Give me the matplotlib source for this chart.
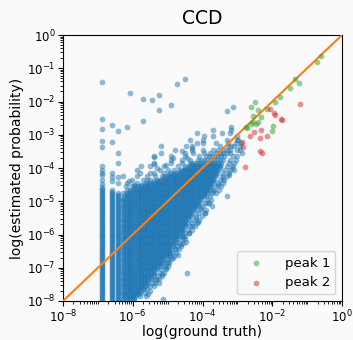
import numpy as np
import matplotlib
matplotlib.use('Agg')
import matplotlib.pyplot as plt
from matplotlib.ticker import LogLocator, NullFormatter

# ---------------- data (log10 values) ----------------
# discrete low-probability ground-truth columns
col1_lx = -6.886
col2_lx = -6.585
col3_lx = -6.41
column_fill_ly = [-7.99, -7.95, -7.9, -7.86, -7.81, -7.77, -7.72, -7.68, -7.63, -7.59,
                  -7.54, -7.5, -7.45, -7.41, -7.36, -7.32, -7.27, -7.23, -7.18, -7.14,
                  -7.09, -7.05, -7.0, -6.96, -6.91, -6.87, -6.82, -6.78, -6.73, -6.69,
                  -6.64, -6.6, -6.55, -6.51, -6.46, -6.42, -6.37, -6.33, -6.28, -6.24,
                  -6.19, -6.15, -6.1, -6.06, -6.01, -5.97, -5.92, -5.88, -5.83, -5.79,
                  -5.74, -5.7, -5.65, -5.61, -5.56, -5.52, -5.47, -5.43, -5.38, -5.34,
                  -5.29, -5.25, -5.2, -5.16, -5.11, -5.07, -5.02, -4.98, -4.93, -4.89,
                  -4.84, -4.8, -4.75, -4.71, -4.66, -4.62, -4.57]
col1_top = -4.56
col2_top = -4.66
col3_top = -4.75
col1_sparse_ly = [-1.41, -2.54, -2.84, -3.18, -3.36, -3.94, -4.06, -4.14, -4.21, -4.35, -4.47]
col2_sparse_ly = [-2.72, -3.21, -4.14, -4.26, -4.4]
col3_sparse_ly = [-2.88, -3.54, -3.86, -4.26, -4.45]

# main cloud, row by row: estimated (ly) -> ground truth values (lx)
rows_ly = [-7.95, -7.85, -7.75, -7.65, -7.55, -7.45, -7.35, -7.25, -7.15, -7.05,
           -6.95, -6.85, -6.75, -6.65, -6.55, -6.45, -6.35, -6.25, -6.15, -6.05,
           -5.95, -5.85, -5.75, -5.65, -5.55, -5.45, -5.35, -5.25, -5.15, -5.05,
           -4.95, -4.85, -4.75, -4.65, -4.55, -4.45, -4.35, -4.25, -4.15, -4.05,
           -3.95, -3.85, -3.75, -3.65, -3.55, -3.45, -3.35, -3.25, -3.15, -3.05,
           -2.95, -2.85, -2.76, -2.3, -2.16]
rows_lx = [
    [-6.29, -6.2, -6.12, -6.03, -5.95, -5.13],
    [-6.25, -6.16, -6.06, -5.98, -5.9, -5.78],
    [-6.29, -6.21, -6.11, -6.02, -5.94, -5.87, -5.79, -5.66],
    [-6.25, -6.16, -6.08, -5.98, -5.89, -5.81, -5.72, -5.58],
    [-6.29, -6.2, -6.11, -6.03, -5.94, -5.85, -5.76, -5.66, -5.5],
    [-6.25, -6.17, -6.07, -5.99, -5.9, -5.8, -5.71, -5.6, -5.45, -5.35],
    [-6.29, -6.21, -6.12, -6.02, -5.93, -5.84, -5.75, -5.66, -5.57, -5.48, -5.32, -5.25],
    [-6.25, -6.16, -6.07, -5.98, -5.89, -5.8, -5.71, -5.62, -5.52, -5.43, -5.28, -5.15],
    [-6.29, -6.2, -6.11, -6.02, -5.93, -5.84, -5.75, -5.66, -5.57, -5.47, -5.38, -5.22, -5.1, -4.45],
    [-6.25, -6.16, -6.07, -5.98, -5.89, -5.8, -5.71, -5.62, -5.53, -5.44, -5.33, -5.2, -5.05],
    [-6.29, -6.2, -6.11, -6.02, -5.93, -5.84, -5.75, -5.66, -5.57, -5.48, -5.39, -5.3, -5.2, -5.08, -4.98],
    [-6.25, -6.16, -6.07, -5.98, -5.89, -5.8, -5.71, -5.62, -5.53, -5.44, -5.35, -5.26, -5.16, -5.04, -4.96],
    [-6.29, -6.2, -6.11, -6.02, -5.93, -5.84, -5.75, -5.66, -5.57, -5.48, -5.39, -5.3, -5.21, -5.1, -5.0, -4.9],
    [-6.25, -6.16, -6.07, -5.98, -5.89, -5.8, -5.71, -5.62, -5.53, -5.44, -5.35, -5.26, -5.17, -5.08, -5.0, -4.92, -4.82],
    [-6.29, -6.2, -6.11, -6.02, -5.93, -5.84, -5.75, -5.66, -5.57, -5.48, -5.39, -5.3, -5.21, -5.12, -5.03, -4.95, -4.87, -4.75],
    [-6.25, -6.16, -6.07, -5.98, -5.89, -5.8, -5.71, -5.62, -5.53, -5.44, -5.35, -5.26, -5.17, -5.08, -4.99, -4.9, -4.8, -4.68],
    [-6.29, -6.2, -6.11, -6.02, -5.93, -5.84, -5.75, -5.66, -5.57, -5.48, -5.39, -5.3, -5.21, -5.12, -5.03, -4.94, -4.84, -4.72, -4.62],
    [-6.25, -6.16, -6.07, -5.98, -5.89, -5.8, -5.71, -5.62, -5.53, -5.44, -5.35, -5.26, -5.17, -5.08, -4.99, -4.9, -4.8, -4.66, -4.56],
    [-6.29, -6.2, -6.11, -6.02, -5.93, -5.84, -5.75, -5.66, -5.57, -5.48, -5.39, -5.3, -5.21, -5.12, -5.03, -4.94, -4.85, -4.74, -4.6, -4.5],
    [-6.25, -6.16, -6.07, -5.98, -5.89, -5.8, -5.71, -5.62, -5.53, -5.44, -5.35, -5.26, -5.17, -5.08, -4.99, -4.9, -4.81, -4.7, -4.58, -4.5],
    [-6.29, -6.2, -6.11, -6.02, -5.93, -5.84, -5.75, -5.66, -5.57, -5.48, -5.39, -5.3, -5.21, -5.12, -5.03, -4.94, -4.85, -4.76, -4.65, -4.52, -4.4],
    [-6.25, -6.16, -6.07, -5.98, -5.89, -5.8, -5.71, -5.62, -5.53, -5.44, -5.35, -5.26, -5.17, -5.08, -4.99, -4.9, -4.81, -4.72, -4.62, -4.55, -4.42, -4.3],
    [-6.29, -6.2, -6.11, -6.02, -5.93, -5.84, -5.75, -5.66, -5.57, -5.48, -5.39, -5.3, -5.21, -5.12, -5.03, -4.94, -4.85, -4.76, -4.67, -4.58, -4.49, -4.36, -4.22],
    [-6.25, -6.16, -6.07, -5.98, -5.89, -5.8, -5.71, -5.62, -5.53, -5.44, -5.35, -5.26, -5.17, -5.08, -4.99, -4.9, -4.81, -4.72, -4.63, -4.54, -4.45, -4.3, -4.15],
    [-6.29, -6.2, -6.11, -6.02, -5.93, -5.84, -5.75, -5.66, -5.57, -5.48, -5.39, -5.3, -5.21, -5.12, -5.03, -4.94, -4.85, -4.76, -4.67, -4.58, -4.49, -4.4, -4.25, -4.1],
    [-6.25, -6.16, -6.07, -5.98, -5.89, -5.8, -5.71, -5.62, -5.53, -5.44, -5.35, -5.26, -5.17, -5.08, -4.99, -4.9, -4.81, -4.72, -4.63, -4.54, -4.45, -4.36, -4.2, -4.02],
    [-6.29, -6.2, -6.11, -6.02, -5.93, -5.84, -5.75, -5.66, -5.57, -5.48, -5.39, -5.3, -5.21, -5.12, -5.03, -4.94, -4.85, -4.76, -4.67, -4.58, -4.49, -4.4, -4.31, -4.12, -3.93],
    [-6.25, -6.16, -6.07, -5.98, -5.89, -5.8, -5.71, -5.62, -5.53, -5.44, -5.35, -5.26, -5.17, -5.08, -4.99, -4.9, -4.81, -4.72, -4.63, -4.54, -4.45, -4.36, -4.27, -4.18, -4.05, -3.9],
    [-6.29, -6.2, -6.11, -6.02, -5.93, -5.84, -5.75, -5.66, -5.57, -5.48, -5.39, -5.3, -5.21, -5.12, -5.03, -4.94, -4.85, -4.76, -4.67, -4.58, -4.49, -4.4, -4.31, -4.22, -4.13, -3.98, -3.74],
    [-6.25, -6.16, -6.07, -5.98, -5.89, -5.8, -5.71, -5.62, -5.53, -5.44, -5.35, -5.26, -5.17, -5.08, -4.99, -4.9, -4.81, -4.72, -4.63, -4.54, -4.45, -4.36, -4.27, -4.18, -4.09, -3.92, -3.8],
    [-6.29, -6.2, -6.11, -6.02, -5.93, -5.84, -5.75, -5.66, -5.57, -5.48, -5.39, -5.3, -5.21, -5.12, -5.03, -4.94, -4.85, -4.76, -4.67, -4.58, -4.49, -4.4, -4.31, -4.22, -4.13, -4.04, -3.86, -3.75],
    [-6.25, -6.16, -6.07, -5.98, -5.89, -5.8, -5.71, -5.62, -5.53, -5.44, -5.35, -5.26, -5.17, -5.08, -4.99, -4.9, -4.81, -4.72, -4.63, -4.54, -4.45, -4.36, -4.27, -4.18, -4.09, -4.0, -3.91, -3.78, -3.31],
    [-6.29, -6.2, -6.11, -6.02, -5.93, -5.84, -5.75, -5.66, -5.57, -5.48, -5.39, -5.3, -5.21, -5.12, -5.03, -4.94, -4.85, -4.76, -4.67, -4.58, -4.49, -4.4, -4.31, -4.22, -4.13, -4.04, -3.95, -3.86, -3.72, -3.6],
    [-6.16, -6.07, -5.98, -5.89, -5.8, -5.71, -5.62, -5.53, -5.44, -5.35, -5.26, -5.17, -5.08, -4.99, -4.9, -4.81, -4.72, -4.63, -4.54, -4.45, -4.36, -4.27, -4.18, -4.09, -4.0, -3.91, -3.82, -3.66, -3.52],
    [-6.2, -6.02, -5.93, -5.84, -5.75, -5.66, -5.57, -5.48, -5.39, -5.3, -5.21, -5.12, -5.03, -4.94, -4.85, -4.76, -4.67, -4.58, -4.49, -4.4, -4.31, -4.22, -4.13, -4.04, -3.95, -3.86, -3.77, -3.6, -3.48],
    [-6.16, -5.89, -5.62, -5.53, -5.44, -5.35, -5.26, -5.17, -5.08, -4.99, -4.9, -4.81, -4.72, -4.63, -4.54, -4.45, -4.36, -4.27, -4.18, -4.09, -4.0, -3.91, -3.82, -3.73, -3.55, -3.42],
    [-6.02, -5.7, -5.5, -5.3, -5.21, -5.12, -5.03, -4.94, -4.85, -4.76, -4.67, -4.58, -4.49, -4.4, -4.31, -4.22, -4.13, -4.04, -3.95, -3.86, -3.77, -3.68, -3.5, -3.38],
    [-6.27, -5.89, -5.6, -5.35, -5.17, -5.08, -4.99, -4.9, -4.81, -4.72, -4.63, -4.54, -4.45, -4.36, -4.27, -4.18, -4.09, -4.0, -3.91, -3.82, -3.73, -3.64, -3.45, -3.3],
    [-5.79, -5.4, -5.1, -4.94, -4.85, -4.76, -4.67, -4.58, -4.49, -4.4, -4.31, -4.22, -4.13, -4.04, -3.95, -3.86, -3.77, -3.68, -3.59, -3.42, -3.25],
    [-5.89, -5.22, -5.0, -4.81, -4.63, -4.54, -4.45, -4.36, -4.27, -4.18, -4.09, -4.0, -3.91, -3.82, -3.73, -3.64, -3.55, -3.35, -3.2, -3.1],
    [-5.5, -5.1, -4.7, -4.49, -4.4, -4.31, -4.22, -4.13, -4.04, -3.95, -3.86, -3.77, -3.68, -3.59, -3.5, -3.3, -3.13],
    [-5.39, -4.9, -4.6, -4.36, -4.27, -4.18, -4.09, -4.0, -3.91, -3.82, -3.73, -3.64, -3.55, -3.46, -3.25, -3.1],
    [-4.89, -4.6, -4.36, -4.13, -4.04, -3.95, -3.86, -3.77, -3.68, -3.59, -3.5, -3.41, -3.2, -3.05],
    [-5.38, -4.9, -4.5, -4.1, -3.91, -3.82, -3.73, -3.64, -3.55, -3.46, -3.37, -3.12, -3.0],
    [-5.2, -4.5, -4.27, -3.96, -3.79, -3.6, -3.5, -3.4, -3.31, -3.2, -2.88],
    [-4.79, -4.3, -3.98, -3.7, -3.55, -3.4, -3.3, -3.21, -3.0, -2.93],
    [-5.2, -4.46, -4.31, -3.5, -3.26, -3.18, -3.1, -2.93],
    [-4.17, -3.98, -3.62, -3.26, -3.05, -2.9],
    [-4.36, -3.3, -3.0, -2.98],
    [-3.96, -3.69, -3.02],
    [-4.17, -3.45, -3.2],
    [-3.69, -3.19],
    [-3.17],
    [-3.31],
    [-3.12],
]

# solid core between the rows above: ground-truth values present in each
# in-between row, limited to the read extent [lo, hi] of the solid area
fill_lx = [-6.27, -6.17, -6.08, -5.96, -5.86, -5.77, -5.68, -5.58, -5.49, -5.4,
           -5.31, -5.22, -5.13, -5.04, -4.95, -4.86, -4.77, -4.68, -4.59, -4.5,
           -4.41, -4.32, -4.23, -4.14, -4.05, -3.96, -3.87, -3.78, -3.69, -3.6, -3.51]
fill_rows_ly = [-7.9, -7.8, -7.7, -7.6, -7.5, -7.4, -7.3, -7.2, -7.1, -7.0,
                -6.9, -6.8, -6.7, -6.6, -6.5, -6.4, -6.3, -6.2, -6.1, -6.0,
                -5.9, -5.8, -5.7, -5.6, -5.5, -5.4, -5.3, -5.2, -5.1, -5.0,
                -4.9, -4.8, -4.7, -4.6, -4.5, -4.4, -4.3, -4.2, -4.1, -4.0, -3.9]
fill_rows_lo = [-6.3, -6.3, -6.3, -6.3, -6.3, -6.3, -6.3, -6.3, -6.3, -6.3,
                -6.3, -6.3, -6.3, -6.3, -6.3, -6.3, -6.3, -6.3, -6.3, -6.3,
                -6.3, -6.3, -6.3, -6.3, -6.3, -6.3, -6.3, -6.3, -6.3, -6.3,
                -6.3, -6.2, -6.1, -6.0, -5.8, -5.45, -5.15, -4.96, -4.7, -4.52, -4.35]
fill_rows_hi = [-5.96, -5.86, -5.77, -5.68, -5.58, -5.58, -5.49, -5.4, -5.4, -5.31,
                -5.22, -5.13, -5.13, -5.04, -4.95, -4.95, -4.86, -4.77, -4.77, -4.68,
                -4.59, -4.59, -4.5, -4.5, -4.41, -4.32, -4.32, -4.23, -4.14, -4.14,
                -4.05, -3.96, -3.87, -3.78, -3.78, -3.69, -3.69, -3.6, -3.6, -3.51, -3.51]

# scattered points along the ragged edges of the cloud
edge_lx = [-4.12, -3.93, -4.3, -4.2, -4.55, -4.4, -4.62, -4.75, -4.93, -4.85,
           -4.98, -5.05, -5.15, -5.32, -5.4, -5.5, -5.62, -4.05, -3.85, -3.7,
           -3.55, -3.4, -3.25, -3.15, -4.47, -4.7, -5.25, -5.55,
           -5.6, -5.95, -5.5, -5.05, -4.85, -4.6, -4.3, -4.0, -6.1, -5.3, -5.75, -4.45]
edge_ly = [-5.61, -5.36, -5.75, -5.5, -6.07, -5.95, -6.3, -6.45, -6.57, -6.7,
           -6.82, -7.0, -7.2, -7.37, -7.55, -7.7, -7.85, -5.2, -5.05, -4.7,
           -4.5, -4.3, -4.2, -4.0, -6.22, -6.62, -7.46, -7.78,
           -4.35, -4.5, -4.15, -3.9, -3.7, -3.5, -3.4, -3.15, -4.4, -4.0, -3.95, -3.7]

# isolated high-estimate outliers
outlier_lx = [-6.08, -5.72, -5.45, -5.26, -5.24, -4.91, -4.74, -4.50, -6.17, -5.70, -5.38, -5.39]
outlier_ly = [-1.75, -1.92, -1.95, -1.80, -2.26, -2.10, -1.47, -1.31, -2.76, -2.58, -3.66, -3.88]

# peak 1 (green)
peak1_lx = [-0.59, -0.71, -1.23, -1.35, -1.48, -1.78, -1.93, -2.50, -2.62, -2.40, -2.16,
            -2.55, -2.31, -2.56, -2.47, -2.41, -2.61, -1.97, -2.02, -2.72, -2.76]
peak1_ly = [-0.63, -0.80, -1.43, -1.33, -1.60, -1.87, -2.01, -2.01, -2.17, -2.26, -2.23,
            -2.44, -2.46, -2.62, -2.68, -2.63, -2.68, -2.74, -2.88, -2.81, -2.77]
# peak 2 (red)
peak2_lx = [-1.19, -1.95, -1.93, -1.75, -1.71, -2.07, -2.33, -2.52, -2.16, -2.36,
            -2.64, -2.86, -2.83, -2.34, -2.30, -2.79]
peak2_ly = [-2.08, -2.35, -2.41, -2.53, -2.57, -2.23, -2.86, -2.91, -3.04, -3.09,
            -3.05, -3.21, -3.36, -3.49, -3.55, -3.98]

identity_line = [1e-8, 1.0]
x_major = [1e-8, 1e-6, 1e-4, 1e-2, 1.0]
y_major = [1e-8, 1e-7, 1e-6, 1e-5, 1e-4, 1e-3, 1e-2, 1e-1, 1.0]

# ---------------- assemble blue points ----------------
blx, bly = [], []
for top, lx, sparse in [(col1_top, col1_lx, col1_sparse_ly),
                        (col2_top, col2_lx, col2_sparse_ly),
                        (col3_top, col3_lx, col3_sparse_ly)]:
    for v in column_fill_ly:
        if v <= top:
            blx.append(lx); bly.append(v)
    for v in sparse:
        blx.append(lx); bly.append(v)
for ly, xs in zip(rows_ly, rows_lx):
    for lx in xs:
        blx.append(lx); bly.append(ly)
for ly, lo, hi in zip(fill_rows_ly, fill_rows_lo, fill_rows_hi):
    for lx in fill_lx:
        if lo <= lx <= hi:
            blx.append(lx); bly.append(ly)
blx += edge_lx + outlier_lx
bly += edge_ly + outlier_ly
bx = 10.0 ** np.array(blx)
by = 10.0 ** np.array(bly)

# ---------------- plot ----------------
bg = '#fafafa'
fig = plt.figure(figsize=(3.53, 3.40), dpi=100, facecolor=bg)
ax = fig.add_axes([63/353, 1 - 301/340, 279/353, 266/340])
ax.set_facecolor(bg)
ax.set_xscale('log')
ax.set_yscale('log')

ms = 17
ax.scatter(bx, by, s=ms, c='tab:blue', alpha=0.5, linewidths=0, zorder=2)
ax.plot(identity_line, identity_line, color='tab:orange', lw=1.5, zorder=3)
ax.scatter(10.0 ** np.array(peak1_lx), 10.0 ** np.array(peak1_ly), s=ms, c='tab:green',
           alpha=0.5, linewidths=0, zorder=4, label='peak 1')
ax.scatter(10.0 ** np.array(peak2_lx), 10.0 ** np.array(peak2_ly), s=ms, c='tab:red',
           alpha=0.5, linewidths=0, zorder=4, label='peak 2')

ax.set_xlim(1e-8, 1)
ax.set_ylim(1e-8, 1)
ax.set_xticks(x_major)
ax.set_yticks(y_major)
ax.xaxis.set_minor_locator(LogLocator(base=10, subs=np.arange(1, 10), numticks=100))
ax.yaxis.set_minor_locator(LogLocator(base=10, subs=np.arange(2, 10), numticks=100))
ax.xaxis.set_minor_formatter(NullFormatter())
ax.yaxis.set_minor_formatter(NullFormatter())
ax.tick_params(axis='both', which='major', labelsize=8.5, length=3.5, pad=2)
ax.tick_params(axis='both', which='minor', length=2)

ax.set_xlabel('log(ground truth)', fontsize=10, labelpad=0)
ax.set_ylabel('log(estimated probability)', fontsize=10, labelpad=2)
ax.set_title('CCD', fontsize=13.5, pad=8)

leg = ax.legend(loc='lower right', fontsize=9.5, scatterpoints=1, frameon=True,
                borderaxespad=0.5, handletextpad=1.2)
leg.get_frame().set_facecolor(bg)

fig.savefig('out.png', dpi=100, facecolor=bg)
